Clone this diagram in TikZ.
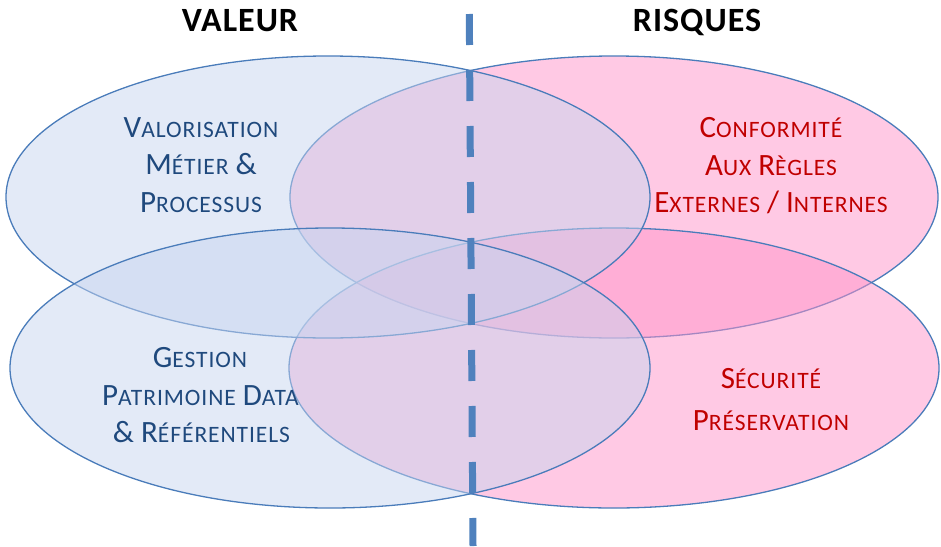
\documentclass[tikz,border=0pt]{standalone}
\usepackage{fontspec}
\setmainfont{Carlito}
\definecolor{bluefill}{RGB}{199,213,239}
\definecolor{pinkfill}{RGB}{255,147,201}
\definecolor{edgeblue}{RGB}{74,124,186}
\definecolor{dashblue}{RGB}{79,129,189}
\definecolor{txtblue}{RGB}{31,73,125}
\definecolor{txtred}{RGB}{192,0,0}
\newcommand\Bg[1]{{\fontsize{31}{31}\selectfont #1}}
\newcommand\Sm[1]{{\fontsize{23.5}{23.5}\selectfont\addfontfeature{LetterSpace=4}#1}}
\tikzset{
  blueset/.style={fill=bluefill, fill opacity=0.5, draw=edgeblue, line width=1.3pt},
  pinkset/.style={fill=pinkfill, fill opacity=0.5, draw=edgeblue, line width=1.3pt},
  bluetxt/.style={anchor=base, text=txtblue, inner sep=0pt, font=\fontsize{31}{31}\selectfont},
  redtxt/.style={anchor=base, text=txtred, inner sep=0pt, font=\fontsize{31}{31}\selectfont},
  head/.style={anchor=base, inner sep=0pt, font=\fontsize{34}{34}\selectfont\bfseries\addfontfeature{LetterSpace=3}},
  divider/.style={draw=dashblue, line width=7pt, dash pattern=on 31pt off 25pt}
}
\begin{document}
\begin{tikzpicture}[x=1pt,y=-1pt]
\useasboundingbox (0,0) rectangle (941,546);
% sets: pinks first, then blues
\draw[pinkset] (614,197) ellipse [x radius=324pt, y radius=141pt];
\draw[pinkset] (614,368) ellipse [x radius=325pt, y radius=140pt];
\draw[blueset] (328,197) ellipse [x radius=322pt, y radius=141pt];
\draw[blueset] (330,368) ellipse [x radius=320pt, y radius=140pt];
% divider
\coordinate (dtop) at (469.3,14);
\coordinate (dbot) at (473,546);
\draw[divider] (dtop) -- (dbot);
% headings
\node[head] (valeur) at (240,31.5) {VALEUR};
\node[head] (risques) at (697,31.5) {RISQUES};
% top-left
\node[bluetxt] (tl1) at (201,137) {V\Sm{ALORISATION}};
\node[bluetxt] (tl2) at (201,174.5) {M\Sm{ÉTIER} \&};
\node[bluetxt] (tl3) at (201,212) {P\Sm{ROCESSUS}};
% top-right
\node[redtxt] (tr1) at (771,137) {C\Sm{ONFORMITÉ}};
\node[redtxt] (tr2) at (771,175) {A\Sm{UX} R\Sm{ÈGLES}};
\node[redtxt] (tr3) at (771,212.7) {E\Sm{XTERNES} / I\Sm{NTERNES}};
% bottom-left
\node[bluetxt] (bl1) at (200,367) {G\Sm{ESTION}};
\node[bluetxt] (bl2) at (200.5,405) {P\Sm{ATRIMOINE} D\Sm{ATA}};
\node[bluetxt] (bl3) at (201.5,442.7) {\& R\Sm{ÉFÉRENTIELS}};
% bottom-right
\node[redtxt] (br1) at (771,388.3) {S\Sm{ÉCURITÉ}};
\node[redtxt] (br2) at (771,430) {P\Sm{RÉSERVATION}};
\end{tikzpicture}
\end{document}
